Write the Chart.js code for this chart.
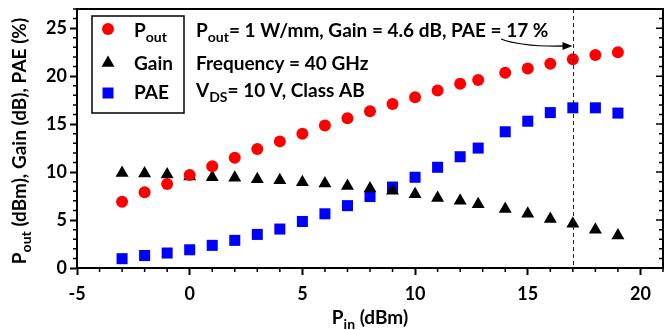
<!DOCTYPE html>
<html>
<head>
<meta charset="utf-8">
<script src="https://cdn.jsdelivr.net/npm/chart.js@4.4.1/dist/chart.umd.min.js"></script>
<style>
  html, body { margin: 0; padding: 0; background: #fff; }
  #wrap { width: 665px; height: 330px; }
</style>
</head>
<body>
<div id="wrap"><canvas id="chart" width="665" height="330"></canvas></div>
<script>
// input power sweep (dBm)
const pin = [-3, -2, -1, 0, 1, 2, 3, 4, 5, 6, 7, 8, 9, 10, 11, 12, 12.8, 14, 15, 16, 17, 18, 19];
const pout = [6.9, 7.9, 8.75, 9.7, 10.6, 11.5, 12.4, 13.2, 14.0, 14.85, 15.6, 16.35, 17.1, 17.8, 18.5, 19.2, 19.6, 20.35, 20.8, 21.3, 21.75, 22.2, 22.5];
const gain = [9.9, 9.85, 9.75, 9.55, 9.45, 9.4, 9.25, 9.15, 8.95, 8.8, 8.55, 8.3, 8.05, 7.7, 7.3, 7.0, 6.65, 6.15, 5.65, 5.1, 4.6, 4.0, 3.4];
const pae = [0.97, 1.3, 1.56, 1.9, 2.36, 2.88, 3.5, 4.06, 4.85, 5.65, 6.5, 7.45, 8.44, 9.46, 10.5, 11.6, 12.5, 14.2, 15.3, 16.2, 16.7, 16.7, 16.15];

const xTicks = [-5, 0, 5, 10, 15, 20];
const yTicks = [0, 5, 10, 15, 20, 25];
const markerX = 17; // bias point marked by the dashed line

const FONT = "Lato, 'Open Sans', sans-serif";
const RED = "#ff0000";
const BLUE = "#0000ff";

function toPoints(ys) {
  return pin.map((x, i) => ({ x: x, y: ys[i] }));
}

// text with subscripts, parts = [[text, isSub], ...]
function richText(ctx, x, y, parts, size, align) {
  const subSize = Math.round(size * 0.72);
  let total = 0;
  parts.forEach((p) => {
    ctx.font = `bold ${p[1] ? subSize : size}px ${FONT}`;
    total += ctx.measureText(p[0]).width;
  });
  let cx = align === "center" ? x - total / 2 : x;
  ctx.textBaseline = "middle";
  ctx.textAlign = "left";
  parts.forEach((p) => {
    ctx.font = `bold ${p[1] ? subSize : size}px ${FONT}`;
    ctx.fillText(p[0], cx, p[1] ? y + size * 0.32 : y);
    cx += ctx.measureText(p[0]).width;
  });
}

function marker(ctx, style, x, y, color) {
  ctx.fillStyle = color;
  ctx.beginPath();
  if (style === "circle") {
    ctx.arc(x, y, 6, 0, Math.PI * 2);
  } else if (style === "triangle") {
    const r = 7.5;
    ctx.moveTo(x, y - r);
    ctx.lineTo(x + r * 0.866, y + r / 2);
    ctx.lineTo(x - r * 0.866, y + r / 2);
    ctx.closePath();
  } else {
    ctx.rect(x - 5.5, y - 5.5, 11, 11);
  }
  ctx.fill();
}

const decorations = {
  id: "decorations",
  afterDatasetsDraw(chart) {
    const ctx = chart.ctx;
    const xs = chart.scales.x;
    const ys = chart.scales.y;
    const a = chart.chartArea;
    ctx.save();

    // dashed line at the marked input power
    const dx = Math.round(xs.getPixelForValue(markerX)) + 0.5;
    ctx.strokeStyle = "#222";
    ctx.lineWidth = 1;
    ctx.setLineDash([4, 3]);
    ctx.beginPath();
    ctx.moveTo(dx, a.top);
    ctx.lineTo(dx, a.bottom);
    ctx.stroke();
    ctx.setLineDash([]);

    // top and right frame
    ctx.strokeStyle = "#000";
    ctx.lineWidth = 2;
    ctx.beginPath();
    ctx.moveTo(a.left, a.top);
    ctx.lineTo(a.right, a.top);
    ctx.lineTo(a.right, a.bottom);
    ctx.stroke();

    // minor ticks (outside) + right side ticks (inside)
    ctx.lineWidth = 1.5;
    ctx.beginPath();
    for (let v = -5; v <= 21; v++) {
      if (v % 5 === 0) continue;
      const px = xs.getPixelForValue(v);
      ctx.moveTo(px, a.bottom);
      ctx.lineTo(px, a.bottom + 4);
    }
    for (let v = 0; v <= 27; v++) {
      const py = ys.getPixelForValue(v);
      const len = v % 5 === 0 ? 7 : 4;
      if (v % 5 !== 0) {
        ctx.moveTo(a.left, py);
        ctx.lineTo(a.left - 4, py);
      }
      ctx.moveTo(a.right, py);
      ctx.lineTo(a.right - len, py);
    }
    ctx.stroke();

    // legend box
    ctx.lineWidth = 1.5;
    ctx.strokeRect(92, 16, 92, 97);
    marker(ctx, "circle", 108, 29, RED);
    marker(ctx, "triangle", 108, 63, "#000");
    marker(ctx, "rect", 108, 93, BLUE);
    ctx.fillStyle = "#000";
    richText(ctx, 134, 31, [["P", false], ["out", true]], 19, "left");
    richText(ctx, 134, 64, [["Gain", false]], 19, "left");
    richText(ctx, 134, 93, [["PAE", false]], 19, "left");

    // notes
    richText(ctx, 196, 31, [["P", false], ["out", true], ["= 1 W/mm, Gain = 4.6 dB, PAE = 17 %", false]], 19, "left");
    richText(ctx, 196, 64, [["Frequency = 40 GHz", false]], 19, "left");
    richText(ctx, 196, 91, [["V", false], ["DS", true], ["= 10 V, Class AB", false]], 19, "left");

    // arrow to the marked point
    ctx.strokeStyle = "#000";
    ctx.lineWidth = 1.3;
    ctx.beginPath();
    ctx.moveTo(501, 39);
    ctx.quadraticCurveTo(522, 47, dx - 9, 46);
    ctx.stroke();
    ctx.beginPath();
    ctx.moveTo(dx - 1, 46);
    ctx.lineTo(dx - 11, 42);
    ctx.lineTo(dx - 11, 50);
    ctx.closePath();
    ctx.fill();

    // axis titles
    richText(ctx, (a.left + a.right) / 2, 318, [["P", false], ["in", true], [" (dBm)", false]], 19, "center");
    ctx.translate(20, 141);
    ctx.rotate(-Math.PI / 2);
    richText(ctx, 0, 0, [["P", false], ["out", true], [" (dBm), Gain (dB), PAE (%)", false]], 19, "center");

    ctx.restore();
  },
};

new Chart(document.getElementById("chart"), {
  type: "scatter",
  data: {
    datasets: [
      { label: "Pout", data: toPoints(pout), pointStyle: "circle", pointRadius: 6, backgroundColor: RED, borderColor: RED, borderWidth: 0 },
      { label: "Gain", data: toPoints(gain), pointStyle: "triangle", pointRadius: 7.5, backgroundColor: "#000", borderColor: "#000", borderWidth: 0 },
      { label: "PAE", data: toPoints(pae), pointStyle: "rect", pointRadius: 7.8, backgroundColor: BLUE, borderColor: BLUE, borderWidth: 0 },
    ],
  },
  options: {
    responsive: false,
    animation: false,
    layout: { autoPadding: false, padding: { top: 9, right: 2, left: 0, bottom: 0 } },
    plugins: { legend: { display: false }, tooltip: { enabled: false } },
    scales: {
      x: {
        type: "linear",
        min: -5,
        max: 21,
        afterBuildTicks: (s) => { s.ticks = xTicks.map((v) => ({ value: v })); },
        afterFit: (s) => { s.height = 62; s.paddingRight = 0; s.paddingLeft = 0; },
        grid: { drawOnChartArea: false, drawTicks: true, tickLength: 7, tickWidth: 2, tickColor: "#000" },
        border: { display: true, color: "#000", width: 2 },
        ticks: { color: "#000", padding: 8, font: { family: FONT, size: 18, weight: "bold" } },
      },
      y: {
        min: 0,
        max: 27,
        afterBuildTicks: (s) => { s.ticks = yTicks.map((v) => ({ value: v })); },
        afterFit: (s) => { s.width = 77; s.paddingTop = 0; s.paddingBottom = 0; },
        grid: { drawOnChartArea: false, drawTicks: true, tickLength: 7, tickWidth: 2, tickColor: "#000" },
        border: { display: true, color: "#000", width: 2 },
        ticks: { color: "#000", padding: 3, font: { family: FONT, size: 18, weight: "bold" } },
      },
    },
  },
  plugins: [decorations],
});
</script>
</body>
</html>
